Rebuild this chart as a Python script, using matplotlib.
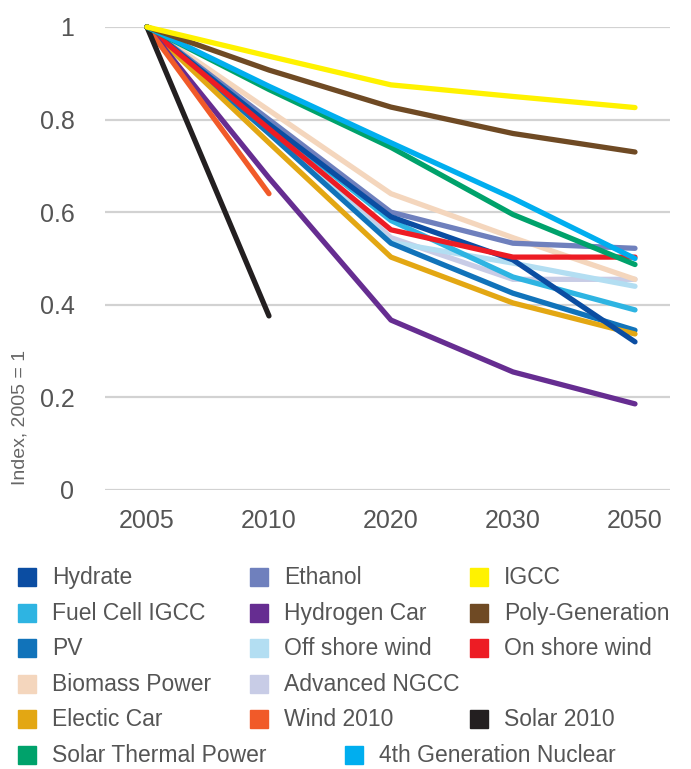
import numpy as np
import matplotlib
matplotlib.use("Agg")
import matplotlib.pyplot as plt
from matplotlib.patches import Rectangle

# Dados (índice, 2005 = 1)
anos = ["2005", "2010", "2020", "2030", "2050"]
nan = np.nan

hydrate = [1, 0.79, 0.59, 0.497, 0.32]
ethanol = [1, 0.80, 0.60, 0.533, 0.522]
igcc = [1, 0.937, 0.875, 0.85, 0.826]
fuel_cell_igcc = [1, 0.79, 0.582, 0.46, 0.389]
hydrogen_car = [1, 0.674, 0.367, 0.255, 0.186]
poly_generation = [1, 0.907, 0.827, 0.77, 0.73]
pv = [1, 0.77, 0.533, 0.425, 0.345]
off_shore_wind = [1, 0.78, 0.535, 0.49, 0.44]
on_shore_wind = [1, 0.78, 0.562, 0.503, 0.503]
biomass_power = [1, 0.82, 0.64, 0.545, 0.455]
advanced_ngcc = [1, 0.78, 0.545, 0.455, 0.455]
electic_car = [1, 0.75, 0.503, 0.404, 0.337]
wind_2010 = [1, 0.64, nan, nan, nan]
solar_2010 = [1, 0.376, nan, nan, nan]
solar_thermal = [1, 0.865, 0.74, 0.595, 0.487]
nuclear_4g = [1, 0.872, 0.75, 0.63, 0.50]

nomes = ["Hydrate", "Ethanol", "IGCC", "Fuel Cell IGCC", "Hydrogen Car", "Poly-Generation",
         "PV", "Off shore wind", "On shore wind", "Biomass Power", "Advanced NGCC",
         "Electic Car", "Wind 2010", "Solar 2010", "Solar Thermal Power", "4th Generation Nuclear"]
series = [hydrate, ethanol, igcc, fuel_cell_igcc, hydrogen_car, poly_generation,
          pv, off_shore_wind, on_shore_wind, biomass_power, advanced_ngcc,
          electic_car, wind_2010, solar_2010, solar_thermal, nuclear_4g]
cores = ["#0b4da2", "#6f80bd", "#fff200", "#2eb4e2", "#662d91", "#6f4a24",
         "#1173ba", "#b3def2", "#ed1c24", "#f4d6bd", "#c8cce6",
         "#e3a713", "#f15a29", "#231f20", "#00a26b", "#00aeef"]

# ordem de desenho (de baixo para cima)
ordem = [10, 7, 9, 1, 3, 6, 11, 0, 8, 4, 12, 13, 14, 15, 5, 2]

W, H = 691, 769
fig = plt.figure(figsize=(W / 100, H / 100), dpi=100)
plt.rcParams['font.family'] = ['Liberation Sans', 'DejaVu Sans']

ax = fig.add_axes([105 / W, 1 - 490 / H, (670 - 105) / W, (490 - 27) / H])
x = np.arange(len(anos))
for i in ordem:
    ax.plot(x, series[i], color=cores[i], lw=3.8, solid_capstyle='round',
            solid_joinstyle='round', clip_on=False, zorder=3)

ax.set_xlim(-0.344, 4.287)
ax.set_ylim(0, 1)
ax.set_yticks([0, 0.2, 0.4, 0.6, 0.8, 1])
ax.set_yticklabels(["0", "0.2", "0.4", "0.6", "0.8", "1"])
ax.set_xticks(x)
ax.set_xticklabels(anos)
ax.yaxis.grid(True, color="#d2d2d2", lw=1.6)
ax.set_axisbelow(True)
for s in ax.spines.values():
    s.set_visible(False)
ax.tick_params(axis='both', length=0, labelsize=18, labelcolor="#555555")
ax.tick_params(axis='y', pad=22)
ax.tick_params(axis='x', pad=14)
ax.set_ylabel("Index, 2005 = 1", fontsize=14, color="#666666", loc='bottom')
ax.yaxis.set_label_coords(-0.136, 0.01)

# legenda manual
linhas = [
    [(0, 18), (1, 250), (2, 470)],
    [(3, 18), (4, 250), (5, 470)],
    [(6, 18), (7, 250), (8, 470)],
    [(9, 18), (10, 250)],
    [(11, 18), (12, 250), (13, 470)],
    [(14, 18), (15, 345)],
]
y0, dy = 577, 35.6
for r, linha in enumerate(linhas):
    yc = y0 + r * dy
    for idx, xp in linha:
        fig.add_artist(Rectangle((xp / W, 1 - (yc + 9) / H), 18 / W, 18 / H,
                                 transform=fig.transFigure, color=cores[idx]))
        fig.text((xp + 34) / W, 1 - (yc + 7) / H, nomes[idx], fontsize=16.5,
                 color="#555555", va='baseline', ha='left')

plt.savefig("out.png", dpi=100)
